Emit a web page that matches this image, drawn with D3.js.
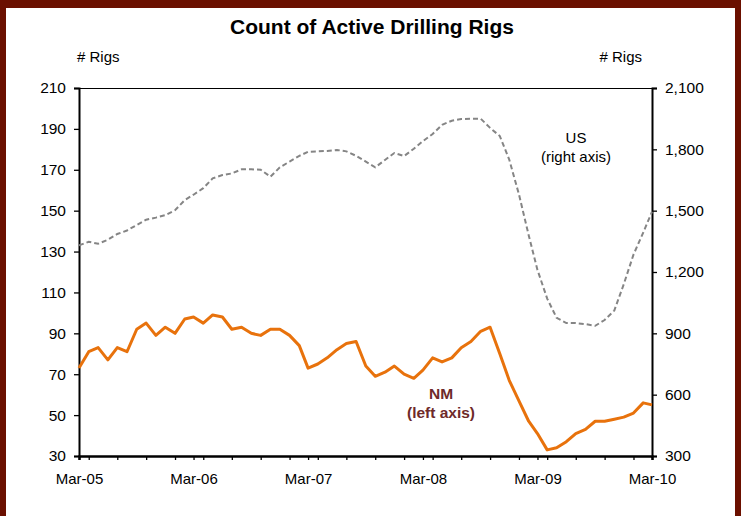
<!DOCTYPE html>
<html>
<head>
<meta charset="utf-8">
<script src="https://cdn.jsdelivr.net/npm/d3@7"></script>
<style>
  html, body { margin: 0; padding: 0; background: #ffffff; }
  svg { display: block; }
  text { font-family: "Liberation Sans", Arial, sans-serif; }
</style>
</head>
<body>
<script>
// ---- data ----
const startMonth = new Date(2005, 2, 1); // Mar-05
const endMonth = new Date(2010, 2, 1);   // Mar-10

const nmRigs = [73,81,83,77,83,81,92,95,89,93,90,97,98,95,99,98,92,93,90,89,
                92,92,89,84,73,75,78,82,85,86,74,69,71,74,70,68,72,78,76,78,
                83,86,91,93,80,67,57,47,41,33,34,37,41,43,47,47,48,49,51,56,55];

const usRigs = [1330,1348,1338,1358,1386,1403,1430,1456,1466,1478,1502,1552,1578,1610,1658,1674,1682,1702,1702,1700,
                1666,1712,1740,1768,1788,1790,1792,1797,1790,1768,1740,1712,1748,1782,1767,1803,1840,1875,1920,1940,
                1948,1950,1950,1905,1865,1750,1580,1380,1210,1070,976,950,950,945,937,965,1012,1140,1285,1393,1495];

const leftTicks = [30,50,70,90,110,130,150,170,190,210];
const rightTicks = [300,600,900,1200,1500,1800,2100];
const xTickLabels = ["Mar-05","Mar-06","Mar-07","Mar-08","Mar-09","Mar-10"];

const titleText = "Count of Active Drilling Rigs";

(function () {
// ---- setup ----
const W = 741, H = 516;
const svg = d3.select("body").append("svg").attr("width", W).attr("height", H);

// frame borders
const borderColor = "#6b1000";
svg.append("rect").attr("x", 0).attr("y", 0).attr("width", W).attr("height", H).attr("fill", "#fff");
svg.append("rect").attr("x", 0).attr("y", 0).attr("width", 6).attr("height", H).attr("fill", borderColor);
svg.append("rect").attr("x", 0).attr("y", 0).attr("width", W).attr("height", 8).attr("fill", borderColor);
svg.append("rect").attr("x", W - 6).attr("y", 0).attr("width", 6).attr("height", H).attr("fill", borderColor);

const pL = 79, pR = 652, pT = 88, pB = 456;

const months = d3.timeMonth.range(startMonth, d3.timeMonth.offset(endMonth, 1));
const x = d3.scaleTime().domain([startMonth, endMonth]).range([pL, pR]);
const yL = d3.scaleLinear().domain([30, 210]).range([pB, pT]);
const yR = d3.scaleLinear().domain([300, 2100]).range([pB, pT]);

// title
svg.append("text").attr("x", 372).attr("y", 34).attr("text-anchor", "middle")
  .attr("font-size", 21).attr("font-weight", "bold").attr("fill", "#000").text(titleText);

svg.append("text").attr("x", 77).attr("y", 62).attr("font-size", 15).attr("fill", "#000").text("# Rigs");
svg.append("text").attr("x", 642).attr("y", 62).attr("text-anchor", "end").attr("font-size", 15).attr("fill", "#000").text("# Rigs");

// top border line of plot
svg.append("line").attr("x1", pL).attr("x2", pR).attr("y1", pT + 0.5).attr("y2", pT + 0.5)
  .attr("stroke", "#000").attr("stroke-width", 1.2);

// axes
const quarterTicks = d3.timeMonth.every(3).range(startMonth, d3.timeMonth.offset(endMonth, 1));
const yearTicks = xTickLabels.map((_, i) => d3.timeYear.offset(startMonth, i));

const xAxis = svg.append("g").attr("transform", `translate(0,${pB})`)
  .call(d3.axisBottom(x).tickValues(quarterTicks).tickSize(4).tickFormat(""));
const xLab = svg.append("g").attr("transform", `translate(0,${pB})`)
  .call(d3.axisBottom(x).tickValues(yearTicks).tickSize(4)
    .tickFormat((d, i) => xTickLabels[i]));
[xAxis, xLab].forEach(g => {
  g.select(".domain").attr("stroke", "#000").attr("stroke-width", 2);
  g.selectAll(".tick line").attr("stroke", "#000").attr("stroke-width", 1.3);
});
xLab.selectAll(".tick text").attr("font-size", 15).attr("font-family", "Liberation Sans, Arial, sans-serif")
  .attr("fill", "#000").attr("dy", "1.4em");

const lAxis = svg.append("g").attr("transform", `translate(${pL},0)`)
  .call(d3.axisLeft(yL).tickValues(leftTicks).tickSize(5).tickPadding(8).tickFormat(d3.format("d")));
const rAxis = svg.append("g").attr("transform", `translate(${pR},0)`)
  .call(d3.axisRight(yR).tickValues(rightTicks).tickSize(5).tickPadding(8).tickFormat(d3.format(",")));
[lAxis, rAxis].forEach(g => {
  g.select(".domain").attr("stroke", "#000").attr("stroke-width", 2);
  g.selectAll(".tick line").attr("stroke", "#000").attr("stroke-width", 1.3);
  g.selectAll(".tick text").attr("font-size", 15.5).attr("font-family", "Liberation Sans, Arial, sans-serif").attr("fill", "#000");
});

// lines
const usLine = d3.line().x((d, i) => x(months[i])).y(d => yR(d));
const nmLine = d3.line().x((d, i) => x(months[i])).y(d => yL(d));

svg.append("path").datum(usRigs).attr("d", usLine).attr("fill", "none")
  .attr("stroke", "#858585").attr("stroke-width", 2).attr("stroke-dasharray", "5,3");

svg.append("path").datum(nmRigs).attr("d", nmLine).attr("fill", "none")
  .attr("stroke", "#e8720c").attr("stroke-width", 3).attr("stroke-linejoin", "round");

// series labels
svg.append("text").attr("x", 576).attr("y", 143).attr("text-anchor", "middle").attr("font-size", 15).attr("fill", "#000").text("US");
svg.append("text").attr("x", 576).attr("y", 162).attr("text-anchor", "middle").attr("font-size", 15).attr("fill", "#000").text("(right axis)");

svg.append("text").attr("x", 441).attr("y", 399).attr("text-anchor", "middle").attr("font-size", 15.5)
  .attr("font-weight", "bold").attr("fill", "#6e2a2a").text("NM");
svg.append("text").attr("x", 441).attr("y", 418).attr("text-anchor", "middle").attr("font-size", 15.5)
  .attr("font-weight", "bold").attr("fill", "#6e2a2a").text("(left axis)");
})();
</script>
</body>
</html>
